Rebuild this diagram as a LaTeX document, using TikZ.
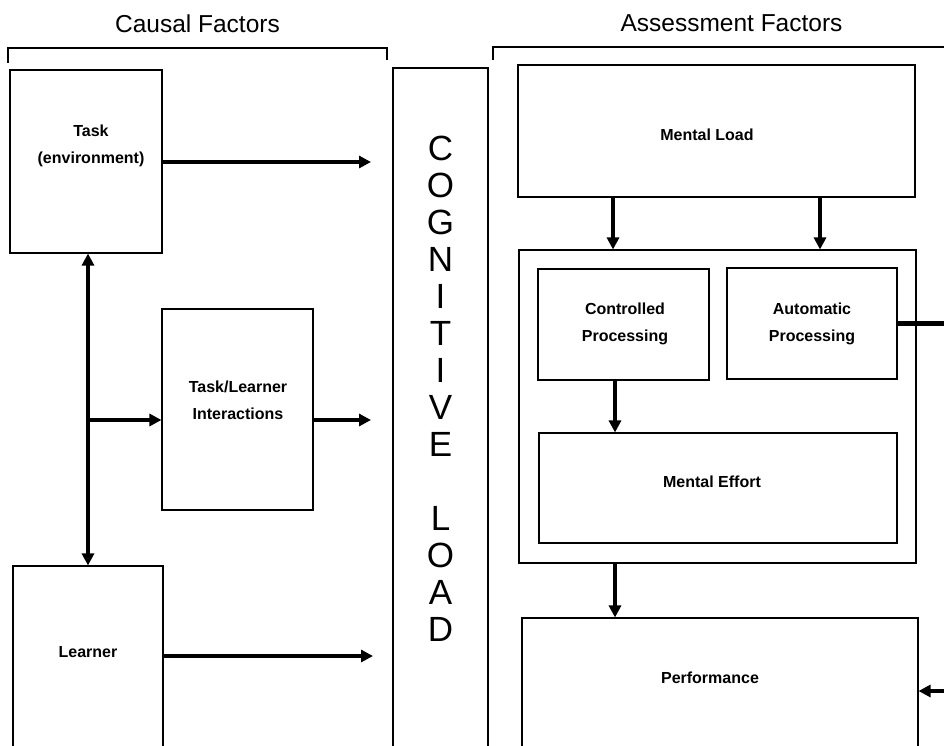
\documentclass[tikz,border=0pt]{standalone}
\usepackage{fontspec}
\setmainfont{Liberation Sans}
\usetikzlibrary{arrows.meta}
\usetikzlibrary{positioning}

\begin{document}
\begin{tikzpicture}
[x=1pt,y=-1pt,
box/.style={draw=black,line width=1.1pt,rectangle,inner sep=0pt},
lbl/.style={font=\bfseries\fontsize{16}{27}\selectfont,align=center},
head/.style={font=\fontsize{24.5}{30}\selectfont,anchor=base},
arr/.style={line width=4.5pt,-{Triangle[length=12pt,width=12pt]}},
darr/.style={line width=4.5pt,{Triangle[length=12pt,width=12pt]}-{Triangle[length=12pt,width=12pt]}},
bar/.style={line width=4.5pt}]
\useasboundingbox (0,0) rectangle (944,746);
\clip (0,0) rectangle (944,746);

% headings and brackets
\node[head] (causal) at (197.5,33) {Causal Factors};
\node[head] (assess) at (731.5,32) {Assessment Factors};
\draw [line width=1.1pt] (8,63) -- (8,48) -- (387,48) -- (387,60);
\draw [line width=1.1pt] (493,60) -- (493,47) -- (950,47);

% causal side
\node[box,minimum width=152pt,minimum height=183pt] (task) at (86,161.5) {};
\node[lbl] (taskT) at (91,146) {Task\\(environment)};
\node[box,minimum width=151pt,minimum height=201pt] (inter) at (237.5,409.5) {};
\node[lbl] (interT) at (238,400) {Task/Learner\\Interactions};
\node[box,minimum width=150pt,minimum height=234pt] (learner) at (88,683) {};
\node[lbl] (learnerT) at (88,652) {Learner};

% the middle column
\node[box,minimum width=95pt,minimum height=732pt] (cog) at (440.5,434) {};
\node[font=\fontsize{35}{37}\selectfont,align=center] (cogT) at (440.5,389)
  {C\\O\\G\\N\\I\\T\\I\\V\\E\\[37pt]L\\O\\A\\D};

% assessment side
\node[box,minimum width=397pt,minimum height=132pt] (mload) at (716.5,131) {};
\node[lbl] (mloadT) at (707,135) {Mental Load};
\node[box,minimum width=397pt,minimum height=313pt] (proc) at (717.5,406.5) {};
\node[box,minimum width=171pt,minimum height=111pt] (ctrl) at (623.5,324.5) {};
\node[lbl] (ctrlT) at (625,324) {Controlled\\Processing};
\node[box,minimum width=170pt,minimum height=111pt] (auto) at (812,323.5) {};
\node[lbl] (autoT) at (812,324) {Automatic\\Processing};
\node[box,minimum width=358pt,minimum height=110pt] (effort) at (718,488) {};
\node[lbl] (effortT) at (712,482) {Mental Effort};
\node[box,minimum width=396pt,minimum height=182pt] (perf) at (720,709) {};
\node[lbl] (perfT) at (710,678) {Performance};

% free ends
\coordinate (c1) at (371,162);
\coordinate (c2) at (371,420);
\coordinate (c3) at (373,656);
\coordinate (j) at (88,420);
\coordinate (e1) at (950,323.5);
\coordinate (e2) at (950,691);

\draw [arr] (task.east |- c1) -- (c1);
\draw [arr] (inter.east |- c2) -- (c2);
\draw [arr] (learner.east |- c3) -- (c3);
\draw [darr] (task.south -| j) -- (learner.north -| j);
\draw [arr] (j) -- (inter.west |- j);

\draw [arr] (mload.south -| 613,0) -- (proc.north -| 613,0);
\draw [arr] (mload.south -| 820,0) -- (proc.north -| 820,0);
\draw [arr] (ctrl.south -| 615,0) -- (effort.north -| 615,0);
\draw [arr] (proc.south -| 615,0) -- (perf.north -| 615,0);
\draw [bar] (auto.east) -- (e1);
\draw [arr] (e2) -- (perf.east |- e2);
\end{tikzpicture}
\end{document}
